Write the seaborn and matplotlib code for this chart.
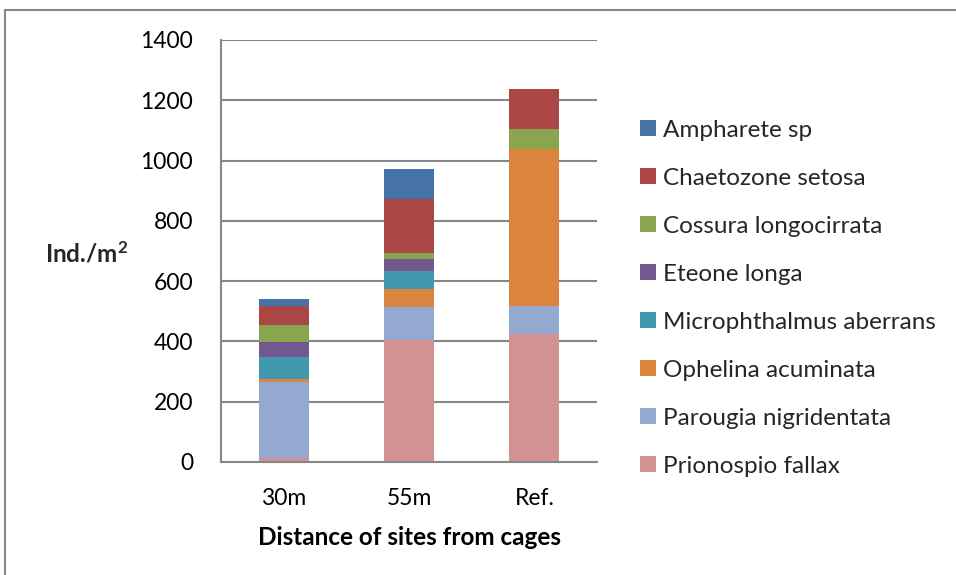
import matplotlib
matplotlib.use("Agg")
import matplotlib.pyplot as plt
from matplotlib.patches import Patch, Rectangle
import seaborn as sns
import pandas as pd

sites = ["30m", "55m", "Ref."]
species = ["Prionospio fallax", "Parougia nigridentata", "Ophelina acuminata",
           "Microphthalmus aberrans", "Eteone longa", "Cossura longocirrata",
           "Chaetozone setosa", "Ampharete sp"]
prionospio = [13, 405, 426]
parougia = [253, 108, 93]
ophelina = [9, 60, 519]
microphthalmus = [75, 60, 0]
eteone = [49, 39, 0]
cossura = [55, 20, 66]
chaetozone = [62, 181, 132]
ampharete = [26, 99, 0]
colors = ["#D19392", "#93A9CF", "#DB843D", "#4198AF", "#71588F", "#89A54E",
          "#AA4643", "#4572A7"]
yticks = [0, 200, 400, 600, 800, 1000, 1200, 1400]

values = [prionospio, parougia, ophelina, microphthalmus, eteone, cossura,
          chaetozone, ampharete]

sns.set_theme(style="white")
plt.rcParams["font.family"] = ["Lato", "DejaVu Sans"]
plt.rcParams["mathtext.fontset"] = "custom"
plt.rcParams["mathtext.bf"] = "Lato:bold"

W, H = 956, 575
fig = plt.figure(figsize=(W / 100, H / 100), dpi=100)
ax = fig.add_axes([221 / W, (H - 462) / H, 376 / W, 422 / H])

gray = "#878787"
ax.set_axisbelow(True)
for yv in yticks:
    ax.axhline(yv, color=gray, lw=1.5, zorder=0)

palette = dict(zip(species, colors))
bottoms = [0, 0, 0]
for sp, vals in zip(species, values):
    sub = pd.DataFrame({"site": sites, "value": vals})
    sns.barplot(data=sub, x="site", y="value", color=palette[sp], width=0.4,
                bottom=bottoms, ax=ax, linewidth=0, saturation=1, zorder=2)
    bottoms = [b + v for b, v in zip(bottoms, vals)]

ax.set_xlim(-0.5, 2.5)
ax.set_ylim(0, 1400)
ax.set_yticks(yticks)
ax.set_yticklabels([str(t) for t in yticks], fontsize=16.5, color="#000000")
ax.set_xticks([0, 1, 2])
ax.set_xticklabels(sites, fontsize=16.5, color="#000000")
ax.set_xticks([-0.5, 0.5, 1.5, 2.5], minor=True)
ax.tick_params(axis="x", which="major", length=0, pad=19)
ax.tick_params(axis="x", which="minor", length=8, width=1.5, color=gray, direction="out")
ax.tick_params(axis="y", which="major", length=8, width=1.5, color=gray, direction="out", pad=12)
for side in ["top", "right"]:
    ax.spines[side].set_visible(False)
for side in ["left", "bottom"]:
    ax.spines[side].set_color(gray)
    ax.spines[side].set_linewidth(1.5)
ax.set_ylabel("")
ax.set_xlabel("Distance of sites from cages", fontsize=17.5, fontweight="bold",
              labelpad=12, color="#000000")
fig.text(45 / W, 1 - 254 / H, r"Ind./m$\mathbf{^2}$", fontsize=17.5, fontweight="bold",
         ha="left", va="center")

handles = [Patch(facecolor=palette[sp], edgecolor="none") for sp in species[::-1]]
fig.legend(handles, species[::-1], loc="upper left",
           bbox_to_anchor=(630 / W, 1 - 110 / H), frameon=False,
           fontsize=17.5, handlelength=0.66, handleheight=0.66, handletextpad=0.3,
           labelspacing=1.11, borderaxespad=0)

fig.patches.append(Rectangle((5 / W, -0.1), 1.5, 1.1 - 10 / H, transform=fig.transFigure,
                             fill=False, edgecolor=gray, lw=1.5))

fig.savefig("out.png", dpi=100)
